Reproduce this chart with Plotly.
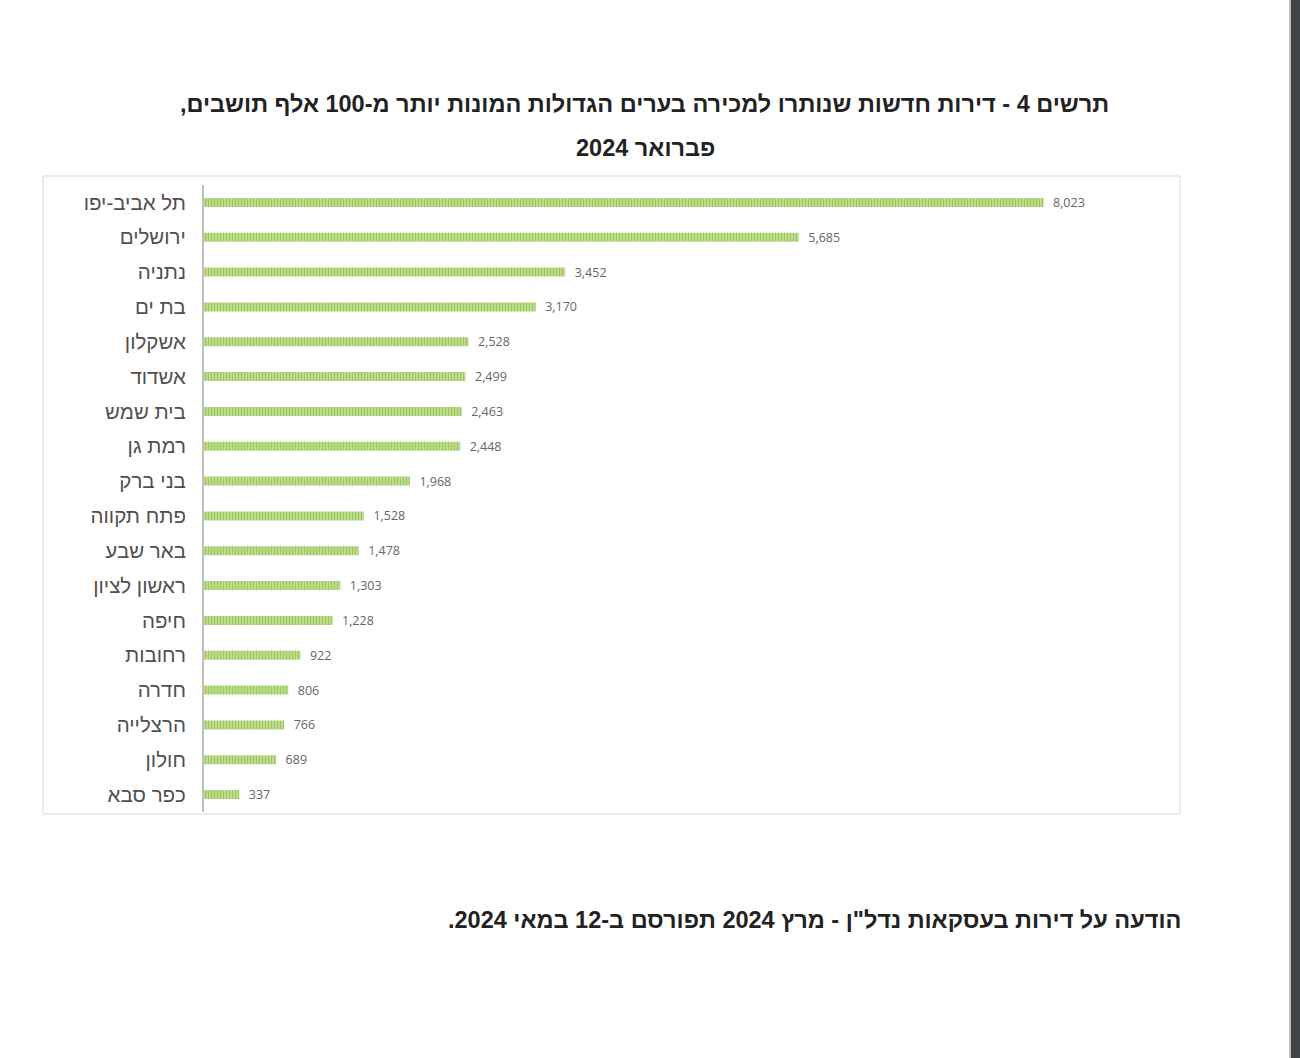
import plotly.graph_objects as go

cities = ["תל אביב-יפו", "ירושלים", "נתניה", "בת ים", "אשקלון", "אשדוד", "בית שמש",
          "רמת גן", "בני ברק", "פתח תקווה", "באר שבע", "ראשון לציון", "חיפה",
          "רחובות", "חדרה", "הרצלייה", "חולון", "כפר סבא"]
apartments = [8023, 5685, 3452, 3170, 2528, 2499, 2463, 2448, 1968, 1528, 1478,
              1303, 1228, 922, 806, 766, 689, 337]

title_line1 = "תרשים 4 - דירות חדשות שנותרו למכירה בערים הגדולות המונות יותר מ-100 אלף תושבים,\u200f"
title_line2 = "פברואר 2024\u200f"
footer = 'הודעה על דירות בעסקאות נדל"ן - מרץ 2024 תפורסם ב-12 במאי 2024.\u200f'

W, H = 1300, 1058
def px(x):
    return x / W
def py(y):
    return 1 - y / H

fig = go.Figure()
fig.add_trace(go.Bar(
    y=cities, x=apartments, orientation="h", width=0.26,
    marker=dict(color="#b3d67c", line=dict(width=0),
                pattern=dict(shape="|", fgcolor="#98c45a", bgcolor="#bcdc8a",
                             size=3, solidity=0.3, fillmode="replace")),
    text=["  " + f"{v:,}" for v in apartments], textposition="outside",
    constraintext="none",
    textfont=dict(family="Open Sans, Liberation Sans, sans-serif", size=12.5, color="#666666"),
    cliponaxis=False, hoverinfo="skip",
))

fig.update_layout(
    width=W, height=H, margin=dict(l=0, r=0, t=0, b=0),
    paper_bgcolor="white", plot_bgcolor="white", showlegend=False,
    xaxis=dict(domain=[px(204), px(1175)], range=[0, 9280], visible=False, fixedrange=True),
    yaxis=dict(domain=[py(812), py(185)], autorange="reversed", showline=True,
               linecolor="#bfbfbf", linewidth=2, ticks="", showgrid=False,
               ticklabelstandoff=12, fixedrange=True,
               tickfont=dict(family="Liberation Sans, Arial, sans-serif", size=20.5, color="#505050")),
    shapes=[
        dict(type="rect", xref="paper", yref="paper", x0=px(43), x1=px(1180),
             y0=py(814), y1=py(176), line=dict(color="#d9d9d9", width=1), layer="below"),
        dict(type="rect", xref="paper", yref="paper", x0=px(1291), x1=1,
             y0=0, y1=1, line=dict(width=0), fillcolor="#404446"),
        dict(type="rect", xref="paper", yref="paper", x0=px(1289), x1=px(1291),
             y0=0, y1=1, line=dict(width=0), fillcolor="#bdbdbd"),
    ],
    annotations=[
        dict(text="<b>" + title_line1 + "</b>", xref="paper", yref="paper",
             x=px(644), y=py(104), xanchor="center", yanchor="middle", showarrow=False,
             font=dict(family="Liberation Sans, Arial, sans-serif", size=23.5, color="#222222")),
        dict(text="<b>" + title_line2 + "</b>", xref="paper", yref="paper",
             x=px(645), y=py(148), xanchor="center", yanchor="middle", showarrow=False,
             font=dict(family="Liberation Sans, Arial, sans-serif", size=23.5, color="#222222")),
        dict(text="<b>" + footer + "</b>", xref="paper", yref="paper",
             x=px(1183), y=py(920), xanchor="right", yanchor="middle", showarrow=False,
             font=dict(family="Liberation Sans, Arial, sans-serif", size=23.5, color="#222222")),
    ],
)

fig.write_html("out.html", config={"displayModeBar": False},
               post_script="document.body.style.margin='0';document.body.style.overflow='hidden';")
